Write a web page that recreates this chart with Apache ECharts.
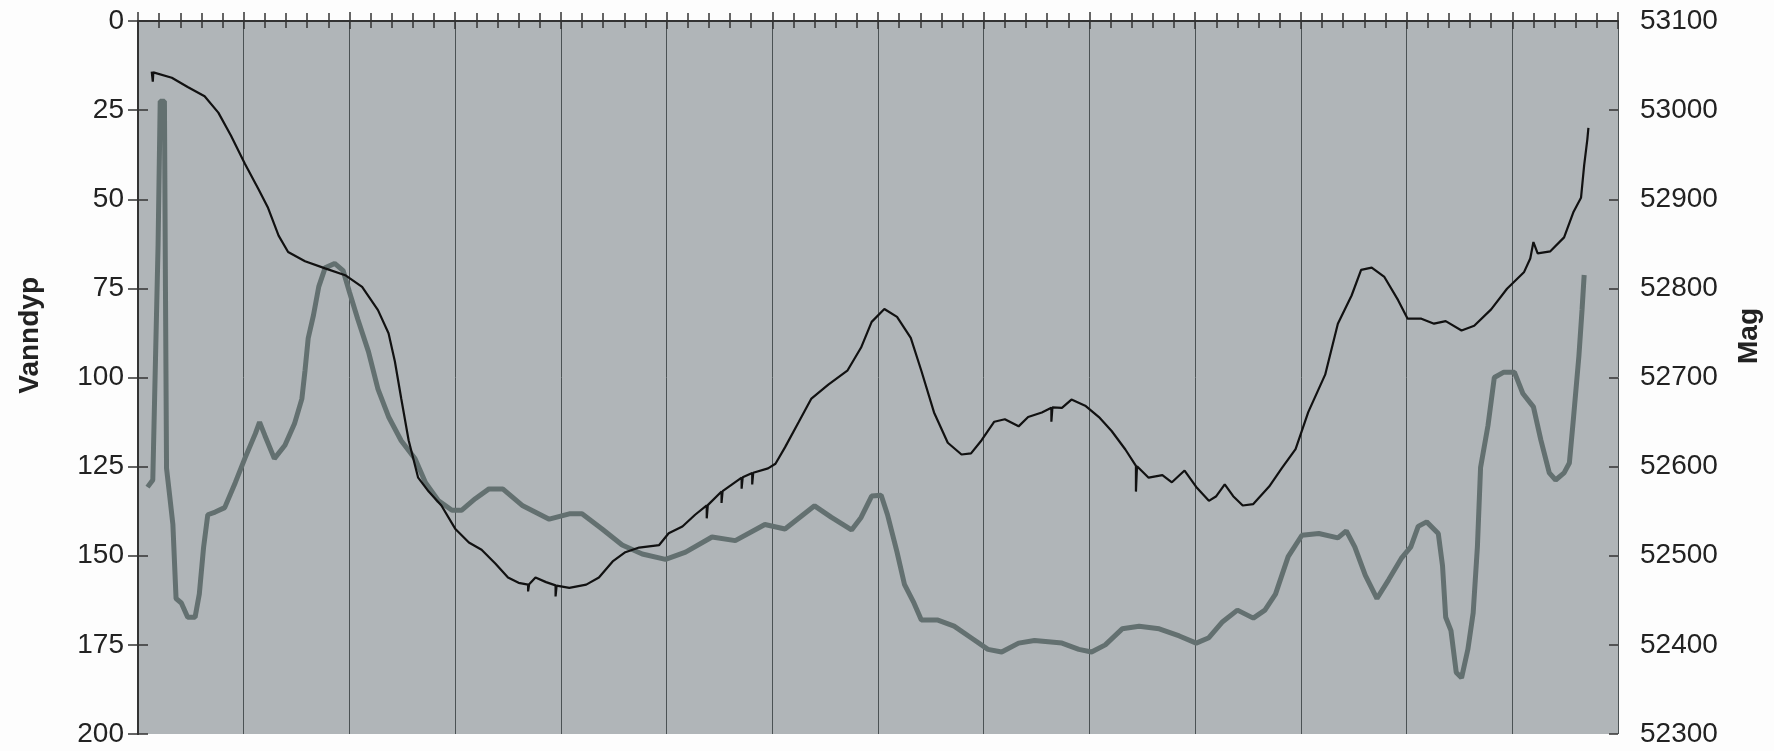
<!DOCTYPE html>
<html>
<head>
<meta charset="utf-8">
<title>Vanndyp / Mag</title>
<script src="https://cdn.jsdelivr.net/npm/echarts@6/dist/echarts.min.js"></script>
<style>
  html, body { margin: 0; padding: 0; background: #fdfdfd; }
  #chart { width: 1774px; height: 751px; }
</style>
</head>
<body>
<div id="chart"></div>
<script>
// x is measured in grid sections (14 sections across the profile)
var depthX = [0.13, 0.14, 0.145, 0.32, 0.47, 0.63, 0.76, 0.88, 1.01, 1.14, 1.23, 1.33, 1.42, 1.58, 1.77, 1.96,
  2.12, 2.27, 2.37, 2.43, 2.49, 2.56, 2.65, 2.75, 2.87, 3.00, 3.13, 3.25, 3.38, 3.50, 3.60, 3.69, 3.69, 3.70,
  3.76, 3.86, 3.95, 3.95, 3.96, 4.08, 4.24, 4.36, 4.49, 4.61, 4.74, 4.93, 5.02, 5.15, 5.27, 5.38, 5.38, 5.39,
  5.52, 5.52, 5.53, 5.71, 5.71, 5.72, 5.81, 5.81, 5.82, 5.96, 6.03, 6.12, 6.25, 6.37, 6.53, 6.71, 6.84, 6.94,
  7.06, 7.18, 7.31, 7.41, 7.53, 7.66, 7.79, 7.88, 7.98, 8.10, 8.20, 8.33, 8.42, 8.55, 8.64, 8.64, 8.65, 8.74,
  8.83, 8.96, 9.09, 9.21, 9.34, 9.44, 9.44, 9.45, 9.56, 9.69, 9.78, 9.90, 10.01, 10.13, 10.20, 10.28, 10.36,
  10.45, 10.55, 10.70, 10.82, 10.95, 11.07, 11.23, 11.35, 11.48, 11.57, 11.67, 11.79, 11.92, 12.01, 12.14,
  12.26, 12.37, 12.52, 12.64, 12.80, 12.95, 13.11, 13.17, 13.20, 13.24, 13.36, 13.49, 13.58, 13.65, 13.68,
  13.71, 13.72]
var depthY = [14.2, 17.0, 14.4, 15.9, 18.5, 21.1, 25.7, 32.2, 40.0, 47.2, 52.4, 60.2, 64.8, 67.4, 69.4, 71.3,
  74.6, 81.1, 87.6, 95.5, 105.9, 117.6, 128.1, 132.0, 135.9, 142.4, 146.3, 148.3, 152.2, 156.1, 157.6, 158.1, 160.0, 158.0,
  156.1, 157.4, 158.3, 161.4, 158.4, 159.0, 158.1, 156.1, 151.6, 149.0, 147.7, 147.0, 143.7, 141.8, 138.5, 135.9, 139.5, 135.8,
  132.0, 135.2, 131.9, 128.1, 131.2, 128.0, 126.8, 130.0, 126.7, 125.5, 124.2, 119.6, 112.5, 105.9, 102.0, 98.1, 91.6, 84.4,
  80.8, 83.0, 88.9, 98.1, 109.8, 118.3, 121.6, 121.3, 117.6, 112.4, 111.7, 113.7, 111.1, 109.8, 108.5, 112.4, 108.4, 108.5,
  106.2, 107.9, 111.1, 115.0, 120.2, 124.8, 132.0, 124.9, 128.1, 127.4, 129.4, 126.1, 130.7, 134.6, 133.3, 130.0, 133.3,
  135.9, 135.5, 130.6, 125.4, 120.1, 109.7, 99.2, 84.9, 77.0, 69.8, 69.2, 71.8, 78.3, 83.5, 83.5,
  84.9, 84.2, 86.8, 85.5, 80.9, 75.1, 70.5, 66.6, 62.0, 65.2, 64.6, 60.7, 53.5, 49.6, 40.4,
  33.2, 30.0]

var magX = [0.09, 0.14, 0.16, 0.19, 0.21, 0.25, 0.26, 0.27, 0.30, 0.33, 0.36, 0.41, 0.47, 0.54, 0.58, 0.62, 0.66,
  0.73, 0.82, 0.92, 1.01, 1.11, 1.15, 1.20, 1.29, 1.39, 1.48, 1.55, 1.58, 1.61, 1.66, 1.71, 1.77, 1.86, 1.94,
  2.00, 2.08, 2.18, 2.27, 2.37, 2.49, 2.62, 2.72, 2.84, 2.97, 3.06, 3.19, 3.32, 3.45, 3.64, 3.89, 4.08, 4.20,
  4.39, 4.58, 4.77, 4.99, 5.18, 5.43, 5.65, 5.93, 6.12, 6.40, 6.56, 6.75, 6.84, 6.94, 7.03, 7.09, 7.18, 7.25,
  7.34, 7.41, 7.56, 7.72, 7.88, 8.04, 8.17, 8.33, 8.48, 8.74, 8.90, 9.02, 9.15, 9.31, 9.47, 9.66, 9.85, 10.01,
  10.13, 10.26, 10.40, 10.55, 10.66, 10.76, 10.88, 11.01, 11.17, 11.35, 11.43, 11.51, 11.61, 11.72, 11.83,
  11.95, 12.04, 12.11, 12.19, 12.30, 12.34, 12.37, 12.42, 12.47, 12.52, 12.58, 12.63, 12.67, 12.70, 12.77,
  12.83, 12.92, 13.02, 13.10, 13.20, 13.27, 13.35, 13.41, 13.49, 13.54, 13.58, 13.63, 13.66, 13.68]
var magY = [52577, 52585, 52692, 52849, 53010, 53010, 52796, 52598, 52567, 52535, 52452, 52447, 52431, 52431, 52457, 52509, 52546,
  52549, 52554, 52582, 52609, 52637, 52650, 52635, 52609, 52624, 52648, 52676, 52708, 52744, 52770, 52802, 52823, 52828, 52820,
  52796, 52765, 52729, 52687, 52656, 52629, 52609, 52582, 52562, 52551, 52551, 52564, 52575, 52575, 52556, 52541, 52547, 52547,
  52530, 52512, 52502, 52496, 52504, 52521, 52517, 52535, 52530, 52556, 52543, 52529, 52543, 52567, 52568, 52546, 52504, 52468,
  52447, 52428, 52428, 52421, 52408, 52395, 52392, 52402, 52405, 52402, 52395, 52392, 52400, 52418, 52421, 52418, 52410, 52402,
  52408, 52426, 52439, 52430, 52439, 52457, 52499, 52523, 52525, 52520, 52528, 52510, 52478, 52452, 52473,
  52497, 52510, 52533, 52538, 52525, 52489, 52431, 52416, 52369, 52363, 52395, 52436, 52510, 52599, 52646,
  52700, 52706, 52706, 52682, 52667, 52630, 52593, 52585, 52593, 52604, 52656, 52724, 52776, 52815]

var depthTicks = [0, 200, 25]
var magTicks = [52300, 53100, 100]

var chart = echarts.init(document.getElementById('chart'))

var labelFont = {
  color: '#222',
  fontSize: 28,
  fontFamily: 'Liberation Sans, Arial, sans-serif',
  formatter: v => String(v)
}

function pairs(xs, ys) {
  return xs.map((x, i) => [x, ys[i]])
}

function tickOnlyAxis(base, inside) {
  return Object.assign({}, base, {
    axisLine: { show: false },
    axisLabel: { show: false },
    splitLine: { show: false },
    name: '',
    axisTick: { show: true, inside: inside, length: 9, lineStyle: { color: '#333', width: 1.5 } }
  })
}

var xBase = {
  type: 'value',
  position: 'top',
  min: 0,
  max: 14,
  interval: 1
}
var xMain = Object.assign({}, xBase, {
  axisLine: { show: true, lineStyle: { color: '#333', width: 2 } },
  axisLabel: { show: false },
  axisTick: { show: true, inside: false, length: 9, lineStyle: { color: '#333', width: 1.5 } },
  minorTick: { show: true, splitNumber: 5, length: 8, lineStyle: { color: '#333', width: 1.5 } },
  splitLine: { show: true, lineStyle: { color: '#4b5254', width: 1 } }
})
var xInner = Object.assign({}, xBase, {
  axisLine: { show: false },
  axisLabel: { show: false },
  splitLine: { show: false },
  axisTick: { show: true, inside: true, length: 8, lineStyle: { color: '#333', width: 1.5 } },
  minorTick: { show: true, splitNumber: 5, length: 7, lineStyle: { color: '#333', width: 1.5 } }
})

var depthAxis = {
  type: 'value',
  position: 'left',
  inverse: true,
  min: depthTicks[0],
  max: depthTicks[1],
  interval: depthTicks[2]
}
var magAxis = {
  type: 'value',
  position: 'right',
  min: magTicks[0],
  max: magTicks[1],
  interval: magTicks[2]
}

chart.setOption({
  backgroundColor: '#fdfdfd',
  animation: false,
  grid: {
    left: 138,
    right: 156,
    top: 21,
    bottom: 17,
    show: true,
    backgroundColor: '#b0b5b8',
    borderWidth: 0
  },
  xAxis: [xMain, xInner],
  yAxis: [
    Object.assign({}, depthAxis, {
      axisLine: { show: true, lineStyle: { color: '#333', width: 2 } },
      axisTick: { show: true, inside: false, length: 10, lineStyle: { color: '#333', width: 1.5 } },
      axisLabel: Object.assign({ margin: 14 }, labelFont),
      splitLine: { show: false }
    }),
    Object.assign({}, magAxis, {
      axisLine: { show: true, lineStyle: { color: '#333', width: 2 } },
      axisTick: { show: true, inside: false, length: 10, lineStyle: { color: '#333', width: 1.5 } },
      axisLabel: Object.assign({ margin: 22 }, labelFont),
      splitLine: { show: false }
    }),
    tickOnlyAxis(depthAxis, true),
    tickOnlyAxis(magAxis, true)
  ],
  graphic: [
    {
      type: 'text',
      left: 16,
      top: 277,
      rotation: Math.PI / 2,
      style: {
        text: 'Vanndyp',
        font: 'bold 28px Liberation Sans, Arial, sans-serif',
        fill: '#222'
      }
    },
    {
      type: 'text',
      left: 1735,
      top: 308,
      rotation: Math.PI / 2,
      style: {
        text: 'Mag',
        font: 'bold 28px Liberation Sans, Arial, sans-serif',
        fill: '#222'
      }
    }
  ],
  series: [
    {
      name: 'Mag',
      type: 'line',
      xAxisIndex: 0,
      yAxisIndex: 1,
      showSymbol: false,
      lineStyle: { color: '#637070', width: 5 },
      data: pairs(magX, magY)
    },
    {
      name: 'Vanndyp',
      type: 'line',
      xAxisIndex: 0,
      yAxisIndex: 0,
      showSymbol: false,
      lineStyle: { color: '#111', width: 2.2 },
      data: pairs(depthX, depthY)
    }
  ]
})
</script>
</body>
</html>
